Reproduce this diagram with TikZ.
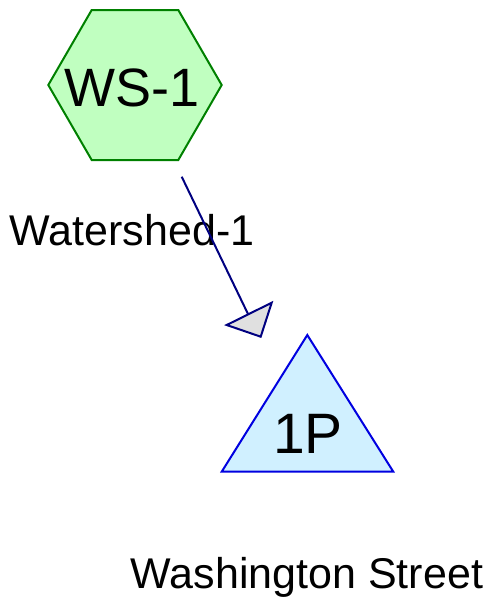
\documentclass[tikz,border=0pt]{standalone}
\usepackage{fontspec}
\setmainfont{Liberation Sans}
\definecolor{hexfill}{HTML}{C0FFC0}
\definecolor{hexline}{HTML}{008000}
\definecolor{trifill}{HTML}{D0F0FF}
\definecolor{triline}{HTML}{0000E0}
\definecolor{arrline}{HTML}{000080}
\definecolor{headfill}{HTML}{E0E0E0}
\tikzset{
  hexshape/.style={draw=hexline, fill=hexfill, line width=2pt, line join=miter},
  trishape/.style={draw=triline, fill=trifill, line width=2pt, line join=miter},
  conn/.style={draw=arrline, line width=2pt},
  headshape/.style={draw=arrline, fill=headfill, line width=2pt, line join=miter},
  bigtext/.style={inner sep=0pt, anchor=base, font=\fontsize{54}{60}\selectfont},
  labeltext/.style={inner sep=0pt, anchor=base, font=\fontsize{43}{50}\selectfont}
}
\begin{document}
\begin{tikzpicture}[x=1pt,y=-1pt]
\useasboundingbox (0,0) rectangle (491,600);
% hexagon
\path[hexshape] (91.7,10) -- (178.3,10) -- (221.7,85) -- (178.3,160) -- (91.7,160) -- (48.3,85) -- cycle;
\node[bigtext] (ws) at (132,106.7) {WS-1};
\node[labeltext] (wslabel) at (132,245) {Watershed-1};
% pond triangle
\path[trishape] (307.3,335) -- (393.3,471.7) -- (221.7,471.7) -- cycle;
\node[bigtext, font=\fontsize{57}{62}\selectfont] (pond) at (308,453) {1P};
\node[labeltext] (pondlabel) at (307,588.3) {Washington Street};
% connector
\coordinate (cstart) at (181.7,176.7);
\coordinate (cend) at (248,314);
\draw[conn] (cstart) -- (cend);
\path[headshape] (226.7,325) -- (271.7,302.7) -- (260.7,336.7) -- cycle;
\end{tikzpicture}
\end{document}
